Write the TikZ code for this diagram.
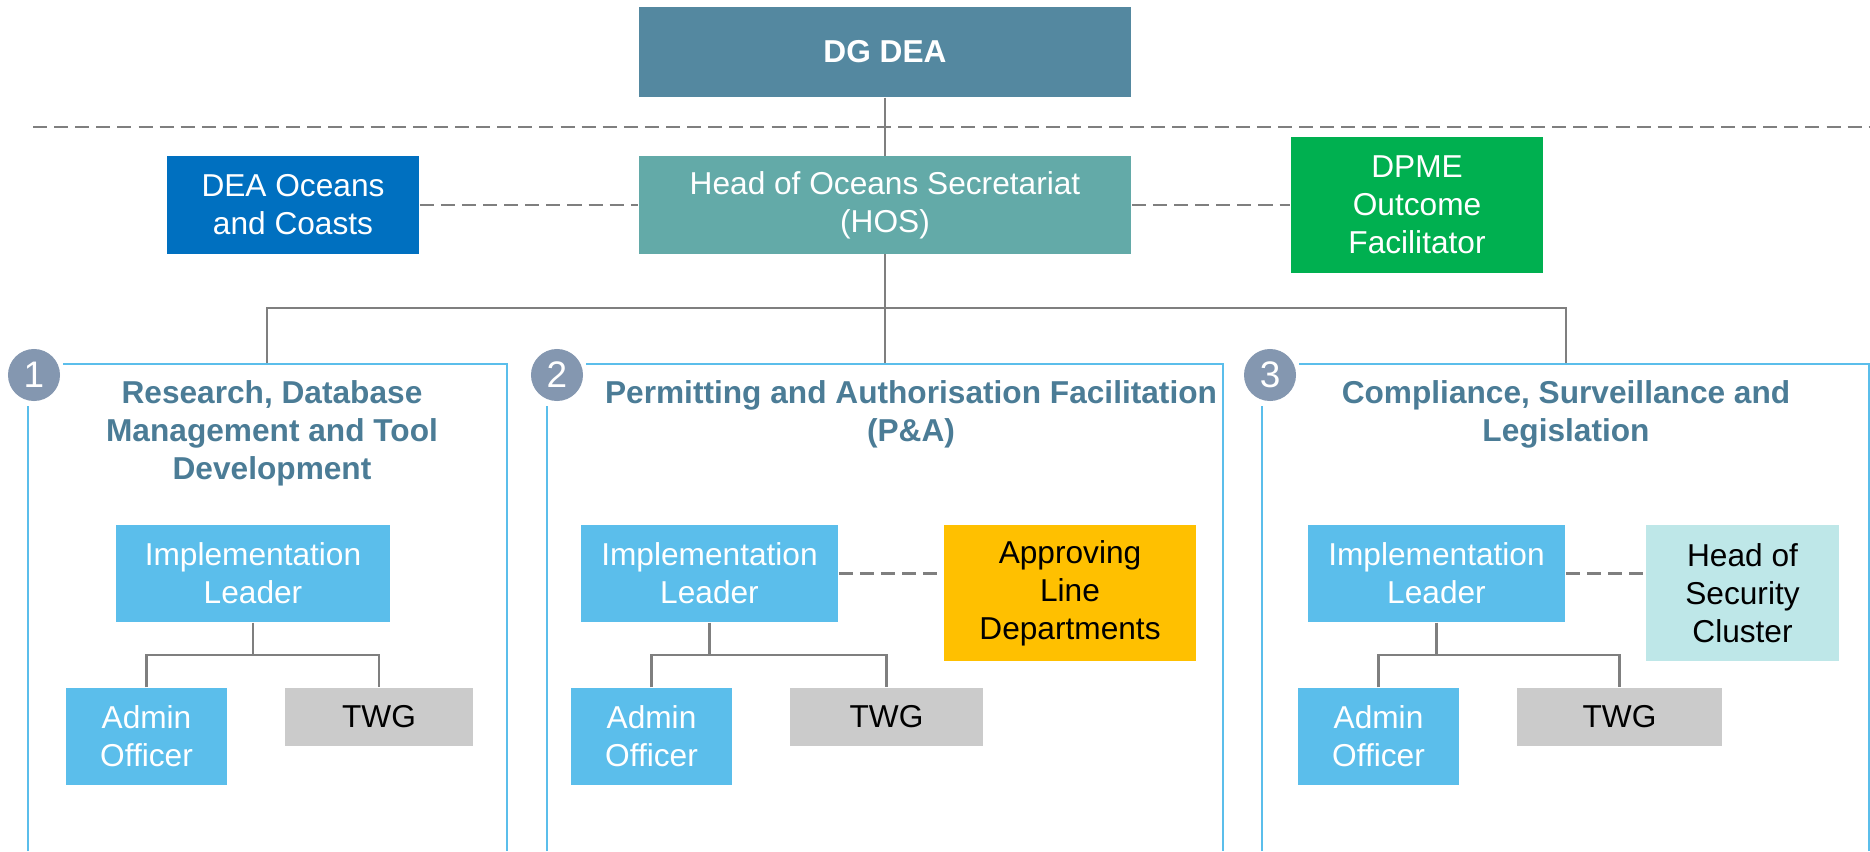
\documentclass[tikz,border=0pt]{standalone}
\usepackage{fontspec}
\setmainfont{Liberation Sans}
\definecolor{dgcol}{HTML}{5488A0}
\definecolor{hoscol}{HTML}{63AAA8}
\definecolor{oceancol}{HTML}{0070C0}
\definecolor{dpmecol}{HTML}{00B050}
\definecolor{skycol}{HTML}{5BBEEB}
\definecolor{greycol}{HTML}{CBCBCB}
\definecolor{ambercol}{HTML}{FFC000}
\definecolor{icecol}{HTML}{BEE7E8}
\definecolor{titlecol}{HTML}{4B7C96}
\definecolor{numcol}{HTML}{8497B0}
\definecolor{linecol}{HTML}{7F7F7F}
\tikzset{
  orgbox/.style={inner sep=0pt, align=center, text=white, font=\fontsize{9}{10.8}\selectfont},
  darkbox/.style={orgbox, text=black},
  tree/.style={draw=linecol, line width=0.6pt},
  dashlink/.style={draw=linecol, line width=0.6pt, dash pattern=on 4pt off 2pt},
  panel/.style={draw=skycol, line width=0.6pt},
  numdot/.style={circle, fill=numcol, inner sep=0pt, minimum size=0.52cm, text=white, font=\fontsize{10.5}{12}\selectfont},
  paneltitle/.style={align=center, text=titlecol, font=\fontsize{9}{10.8}\selectfont\bfseries}
}
\begin{document}
\begin{tikzpicture}[x=0.01cm, y=-0.01cm]
  \useasboundingbox (0,0) rectangle (1870,851);

  \node[orgbox, fill=dgcol, minimum width=4.92cm, minimum height=0.90cm, font=\fontsize{9}{10.8}\selectfont\bfseries] (dg) at (885,52) {DG DEA};
  \node[orgbox, fill=hoscol, minimum width=4.92cm, minimum height=0.97cm] (hos) at (885,205) {Head of Oceans Secretariat\\(HOS)};
  \node[orgbox, fill=oceancol, minimum width=2.52cm, minimum height=0.97cm] (oceans) at (293,205) {DEA Oceans\\and Coasts};
  \node[orgbox, fill=dpmecol, minimum width=2.52cm, minimum height=1.36cm] (dpme) at (1417,205) {DPME\\Outcome\\Facilitator};

  \coordinate (sepL) at (33,127);
  \coordinate (sepR) at (1870,127);
  \draw[dashlink] (sepL) -- (sepR);

  \draw[tree] (dg.south) -- (hos.north);
  \draw[dashlink] (oceans.east) -- (hos.west);
  \draw[dashlink] (hos.east) -- (dpme.west);

  \coordinate (t1) at (267,364);
  \coordinate (t2) at (885,364);
  \coordinate (t3) at (1566,364);
  \draw[tree] (hos.south) -- (t2);
  \draw[tree] (t1) -- ++(0,-56) -| (t3);

  \draw[panel] (28,851) -- (28,406);
  \draw[panel] (63,364) -- (507,364) -- (507,851);
  \draw[panel] (547,851) -- (547,406);
  \draw[panel] (586,364) -- (1223,364) -- (1223,851);
  \draw[panel] (1262,851) -- (1262,406);
  \draw[panel] (1299,364) -- (1869.5,364) -- (1869.5,851);

  \node[numdot] (n1) at (34,375) {1};
  \node[numdot] (n2) at (557,375) {2};
  \node[numdot] (n3) at (1270,375) {3};

  \node[paneltitle] (title1) at (272,433) {Research, Database\\Management and Tool\\Development};
  \node[paneltitle] (title2) at (911,414) {Permitting and Authorisation Facilitation\\(P\&A)};
  \node[paneltitle] (title3) at (1566,414) {Compliance, Surveillance and\\Legislation};

  \node[orgbox, fill=skycol, minimum width=2.74cm, minimum height=0.97cm] (il1) at (253,573.5) {Implementation\\Leader};
  \node[orgbox, fill=skycol, minimum width=1.61cm, minimum height=0.97cm] (ao1) at (146.5,736.5) {Admin\\Officer};
  \node[darkbox, fill=greycol, minimum width=1.88cm, minimum height=0.58cm] (twg1) at (379,717) {TWG};

  \node[orgbox, fill=skycol, minimum width=2.57cm, minimum height=0.97cm] (il2) at (709.5,573.5) {Implementation\\Leader};
  \node[orgbox, fill=skycol, minimum width=1.61cm, minimum height=0.97cm] (ao2) at (651.5,736.5) {Admin\\Officer};
  \node[darkbox, fill=greycol, minimum width=1.93cm, minimum height=0.58cm] (twg2) at (886.5,717) {TWG};
  \node[darkbox, fill=ambercol, minimum width=2.52cm, minimum height=1.36cm] (app) at (1070,593) {Approving\\Line\\Departments};

  \node[orgbox, fill=skycol, minimum width=2.57cm, minimum height=0.97cm] (il3) at (1436.5,573.5) {Implementation\\Leader};
  \node[orgbox, fill=skycol, minimum width=1.61cm, minimum height=0.97cm] (ao3) at (1378.5,736.5) {Admin\\Officer};
  \node[darkbox, fill=greycol, minimum width=2.05cm, minimum height=0.58cm] (twg3) at (1619.5,717) {TWG};
  \node[darkbox, fill=icecol, minimum width=1.93cm, minimum height=1.36cm] (hsc) at (1742.5,593) {Head of\\Security\\Cluster};

  \draw[tree] (il1.south) -- ++(0,32) coordinate (j1);
  \draw[tree] (ao1.north) |- (j1) -| (twg1.north);
  \draw[tree] (il2.south) -- ++(0,32) coordinate (j2);
  \draw[tree] (ao2.north) |- (j2) -| (twg2.north);
  \draw[tree] (il3.south) -- ++(0,32) coordinate (j3);
  \draw[tree] (ao3.north) |- (j3) -| (twg3.north);

  \draw[dashlink] (il2.east) -- (il2.east -| app.west);
  \draw[dashlink] (il3.east) -- (il3.east -| hsc.west);
\end{tikzpicture}
\end{document}
